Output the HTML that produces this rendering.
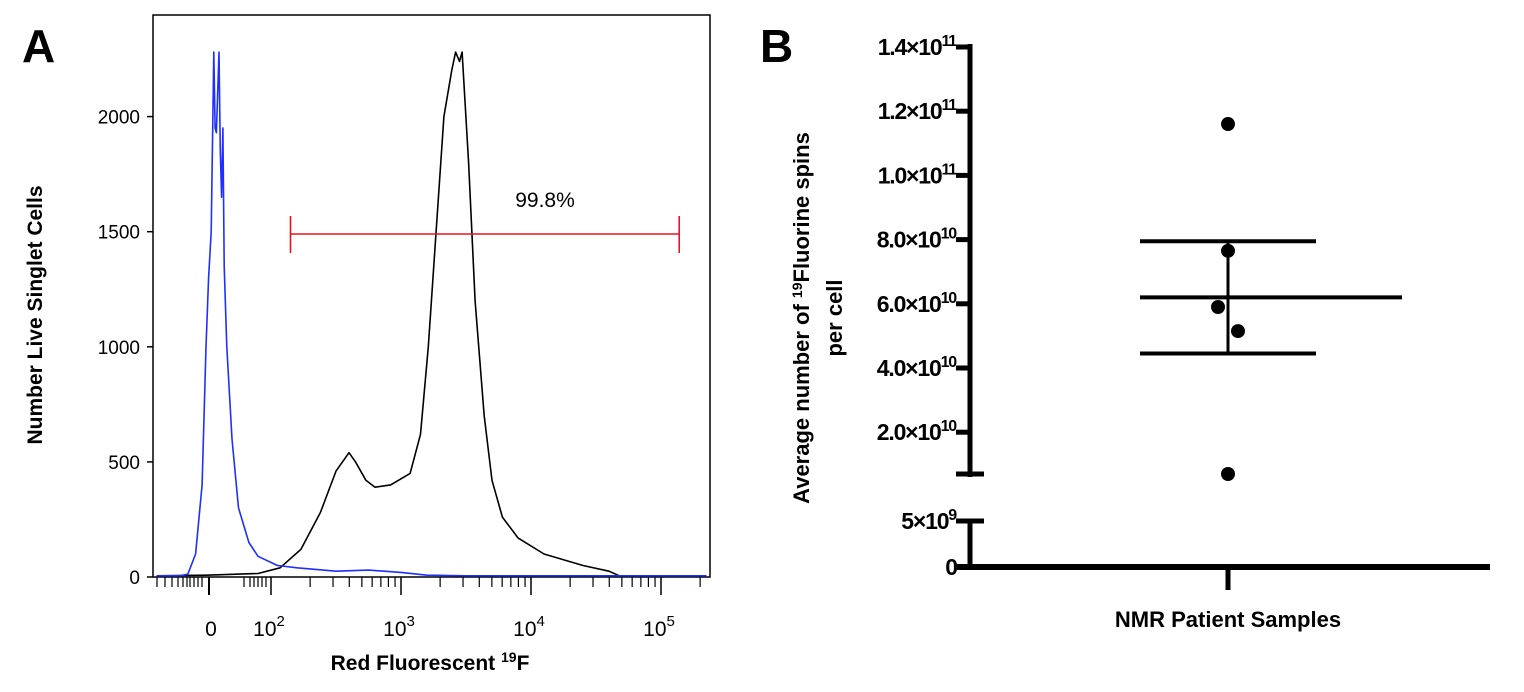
<!DOCTYPE html>
<html><head><meta charset="utf-8"><style>
html,body{margin:0;padding:0;background:#fff;}
svg{display:block;font-family:"Liberation Sans",Arial,sans-serif;}
</style></head><body>
<svg id="fig" width="1524" height="692" viewBox="0 0 1524 692">
<text x="22" y="62" font-size="46" font-weight="bold">A</text>
<text x="760" y="62" font-size="46" font-weight="bold">B</text>
<g id="chartA"></g>
<g id="chartB"></g>
</svg>
<script>
// ---- Panel A data (x in decade units: 2 => 10^2) ----
const blueX = [1.12,1.3,1.36,1.42,1.47,1.5,1.52,1.54,1.56,1.57,1.58,1.6,1.61,1.62,1.63,1.64,1.66,1.7,1.75,1.83,1.9,2.05,2.2,2.5,2.75,3.0,3.2,3.5,4.0,4.5,5.0,5.35];
const blueY = [5,5,12,100,400,1000,1300,1500,2280,1950,1930,2280,1850,1650,1950,1350,1000,600,300,150,90,50,40,25,30,20,8,5,5,5,5,5];
const blackX = [1.12,1.5,1.9,2.07,2.23,2.38,2.5,2.6,2.65,2.73,2.8,2.92,3.07,3.15,3.21,3.27,3.33,3.39,3.42,3.45,3.47,3.52,3.57,3.64,3.7,3.78,3.9,4.1,4.4,4.6,4.68];
const blackY = [5,8,15,40,120,280,460,540,500,420,390,400,450,620,1000,1500,2000,2200,2280,2240,2280,1800,1200,700,420,260,170,100,50,25,5];
const yTicksA = [0,500,1000,1500,2000];
const xMajorA = [2,3,4,5];
const gate = [2.15,5.14];
const gateCount = 1490;
const gateLabel = "99.8%";

// ---- Panel B data ----
const points = [1.16e11,7.65e10,5.9e10,5.15e10,6e9];
const pointOffsets = [0,0,-10,10,0];
const meanVal = 6.2e10;
const semHi = 7.95e10, semLo = 4.45e10;
const upperTicks = [2e10,4e10,6e10,8e10,1e11,1.2e11,1.4e11];
const upperTickLabels = [["2.0×10","10"],["4.0×10","10"],["6.0×10","10"],["8.0×10","10"],["1.0×10","11"],["1.2×10","11"],["1.4×10","11"]];

const NS="http://www.w3.org/2000/svg";
function el(parent,tag,attrs,text){const e=document.createElementNS(NS,tag);for(const k in attrs)e.setAttribute(k,attrs[k]);if(text!==undefined)e.textContent=text;parent.appendChild(e);return e;}

// ===== Panel A =====
const A=document.getElementById('chartA');
const ax=d=>271+(d-2)*130;
const ay=c=>577-c*0.2302;
let r=el(A,'rect',{x:153,y:15,width:557,height:562,fill:'none',stroke:'#000','stroke-width':1.5});


yTicksA.forEach(v=>{
  let t=el(A,'line',{x1:147,x2:153,y1:ay(v),y2:ay(v),stroke:'#000','stroke-width':1.5});
  
  
  let l=el(A,'text',{x:140,y:ay(v)+7,'font-size':19,'text-anchor':'end'},String(v));
  
  
});
xMajorA.forEach(d=>{
  let t=el(A,'line',{x1:ax(d),x2:ax(d),y1:577,y2:595,stroke:'#000','stroke-width':1.5});
  
  
  let g=el(A,'text',{x:ax(d)-2,y:636,'font-size':21,'text-anchor':'middle'});
  
  
  el(g,'tspan',{},'10');
  el(g,'tspan',{dy:-10,'font-size':15},String(d));
  for(let m=2;m<=9;m++){const p=ax(d+Math.log10(m));if(p<708)el(A,'line',{x1:p,x2:p,y1:577,y2:587,stroke:'#000','stroke-width':1.2});}
});
[157,165,172,178,183,187,190,194,198,202,244,250,254,258,262,266].forEach(p=>el(A,'line',{x1:p,x2:p,y1:577,y2:587,stroke:'#000','stroke-width':1.2}));
el(A,'line',{x1:209,x2:209,y1:577,y2:595,stroke:'#000','stroke-width':2});
let z=el(A,'text',{x:211,y:636,'font-size':21,'text-anchor':'middle'},'0');


function curve(xs,ys,color,name){
  let d=xs.map((x,i)=>(i?'L':'M')+ax(x).toFixed(1)+','+ay(ys[i]).toFixed(1)).join(' ');
  let p=el(A,'path',{d:d,fill:'none',stroke:color,'stroke-width':1.6,'stroke-linejoin':'round'});
  
  
}
curve(blackX,blackY,'#000','stained-histogram');
curve(blueX,blueY,'#1f2fff','control-histogram');
let gy=ay(gateCount);
let gl=el(A,'g',{});


el(gl,'line',{x1:ax(gate[0]),x2:ax(gate[1]),y1:gy,y2:gy,stroke:'#e8141c','stroke-width':1.6});
el(gl,'line',{x1:ax(gate[0]),x2:ax(gate[0]),y1:gy-18,y2:gy+19,stroke:'#e8141c','stroke-width':1.6});
el(gl,'line',{x1:ax(gate[1]),x2:ax(gate[1]),y1:gy-18,y2:gy+19,stroke:'#e8141c','stroke-width':1.6});
let gt=el(A,'text',{x:545,y:207,'font-size':21,'text-anchor':'middle'},gateLabel);


let yt=el(A,'text',{transform:'translate(42,315) rotate(-90)','font-size':21,'font-weight':'bold','text-anchor':'middle'},'Number Live Singlet Cells');


let xt=el(A,'text',{x:430,y:670,'font-size':21,'font-weight':'bold','text-anchor':'middle'});


el(xt,'tspan',{},'Red Fluorescent ');
el(xt,'tspan',{dy:-8,'font-size':14},'19');
el(xt,'tspan',{dy:8},'F');

// ===== Panel B =====
const B=document.getElementById('chartB');
const AX=970;
const upY=v=>47+(1.4e11-v)/2e10*64.2;
const loY=v=>567-v/5e9*46;
const by=v=>v>=7e9?upY(v):(v>=5.5e9?474:loY(v));
el(B,'line',{x1:AX,x2:AX,y1:44,y2:477,stroke:'#000','stroke-width':5});
el(B,'line',{x1:AX-14,x2:AX+14,y1:474,y2:474,stroke:'#000','stroke-width':5});
el(B,'line',{x1:AX,x2:AX,y1:519,y2:569,stroke:'#000','stroke-width':5});
el(B,'line',{x1:AX-14,x2:AX+14,y1:521,y2:521,stroke:'#000','stroke-width':5});
let xa=el(B,'line',{x1:955,x2:1490,y1:567,y2:567,stroke:'#000','stroke-width':6});


el(B,'line',{x1:1228,x2:1228,y1:567,y2:590,stroke:'#000','stroke-width':5});
upperTicks.forEach((v,i)=>{
  let y=upY(v);
  let t=el(B,'line',{x1:AX-14,x2:AX,y1:y,y2:y,stroke:'#000','stroke-width':5});
  
  
  let g=el(B,'text',{x:AX-14,y:y+8,'font-size':23,'font-weight':'bold','text-anchor':'end','letter-spacing':'-1.2'});
  
  
  el(g,'tspan',{},upperTickLabels[i][0]);
  el(g,'tspan',{dy:-9,'font-size':16},upperTickLabels[i][1]);
});
let g5=el(B,'text',{x:AX-14,y:529,'font-size':23,'font-weight':'bold','text-anchor':'end','letter-spacing':'-1.2'});


el(g5,'tspan',{},'5×10');el(g5,'tspan',{dy:-9,'font-size':16},'9');
let g0=el(B,'text',{x:AX-12,y:575,'font-size':23,'font-weight':'bold','text-anchor':'end'},'0');


let ml=el(B,'line',{x1:1140,x2:1402,y1:upY(meanVal),y2:upY(meanVal),stroke:'#000','stroke-width':4});


let eb=el(B,'g',{});


el(eb,'line',{x1:1228,x2:1228,y1:upY(semHi),y2:upY(semLo),stroke:'#000','stroke-width':3});
el(eb,'line',{x1:1140,x2:1316,y1:upY(semHi),y2:upY(semHi),stroke:'#000','stroke-width':4});
el(eb,'line',{x1:1140,x2:1316,y1:upY(semLo),y2:upY(semLo),stroke:'#000','stroke-width':4});
points.forEach((v,i)=>{
  let c=el(B,'circle',{cx:1228+pointOffsets[i],cy:by(v),r:7,fill:'#000'});
  
  
});
let bt=el(B,'text',{transform:'translate(809,318) rotate(-90)','font-size':22,'font-weight':'bold','text-anchor':'middle'});


el(bt,'tspan',{},'Average number of ');
el(bt,'tspan',{dy:-7,'font-size':14},'19');
el(bt,'tspan',{dy:7},'Fluorine spins');
let bt2=el(B,'text',{transform:'translate(842,318) rotate(-90)','font-size':22,'font-weight':'bold','text-anchor':'middle'},'per cell');


let bx=el(B,'text',{x:1228,y:627,'font-size':22,'font-weight':'bold','text-anchor':'middle'},'NMR Patient Samples');


</script>
</body></html>
